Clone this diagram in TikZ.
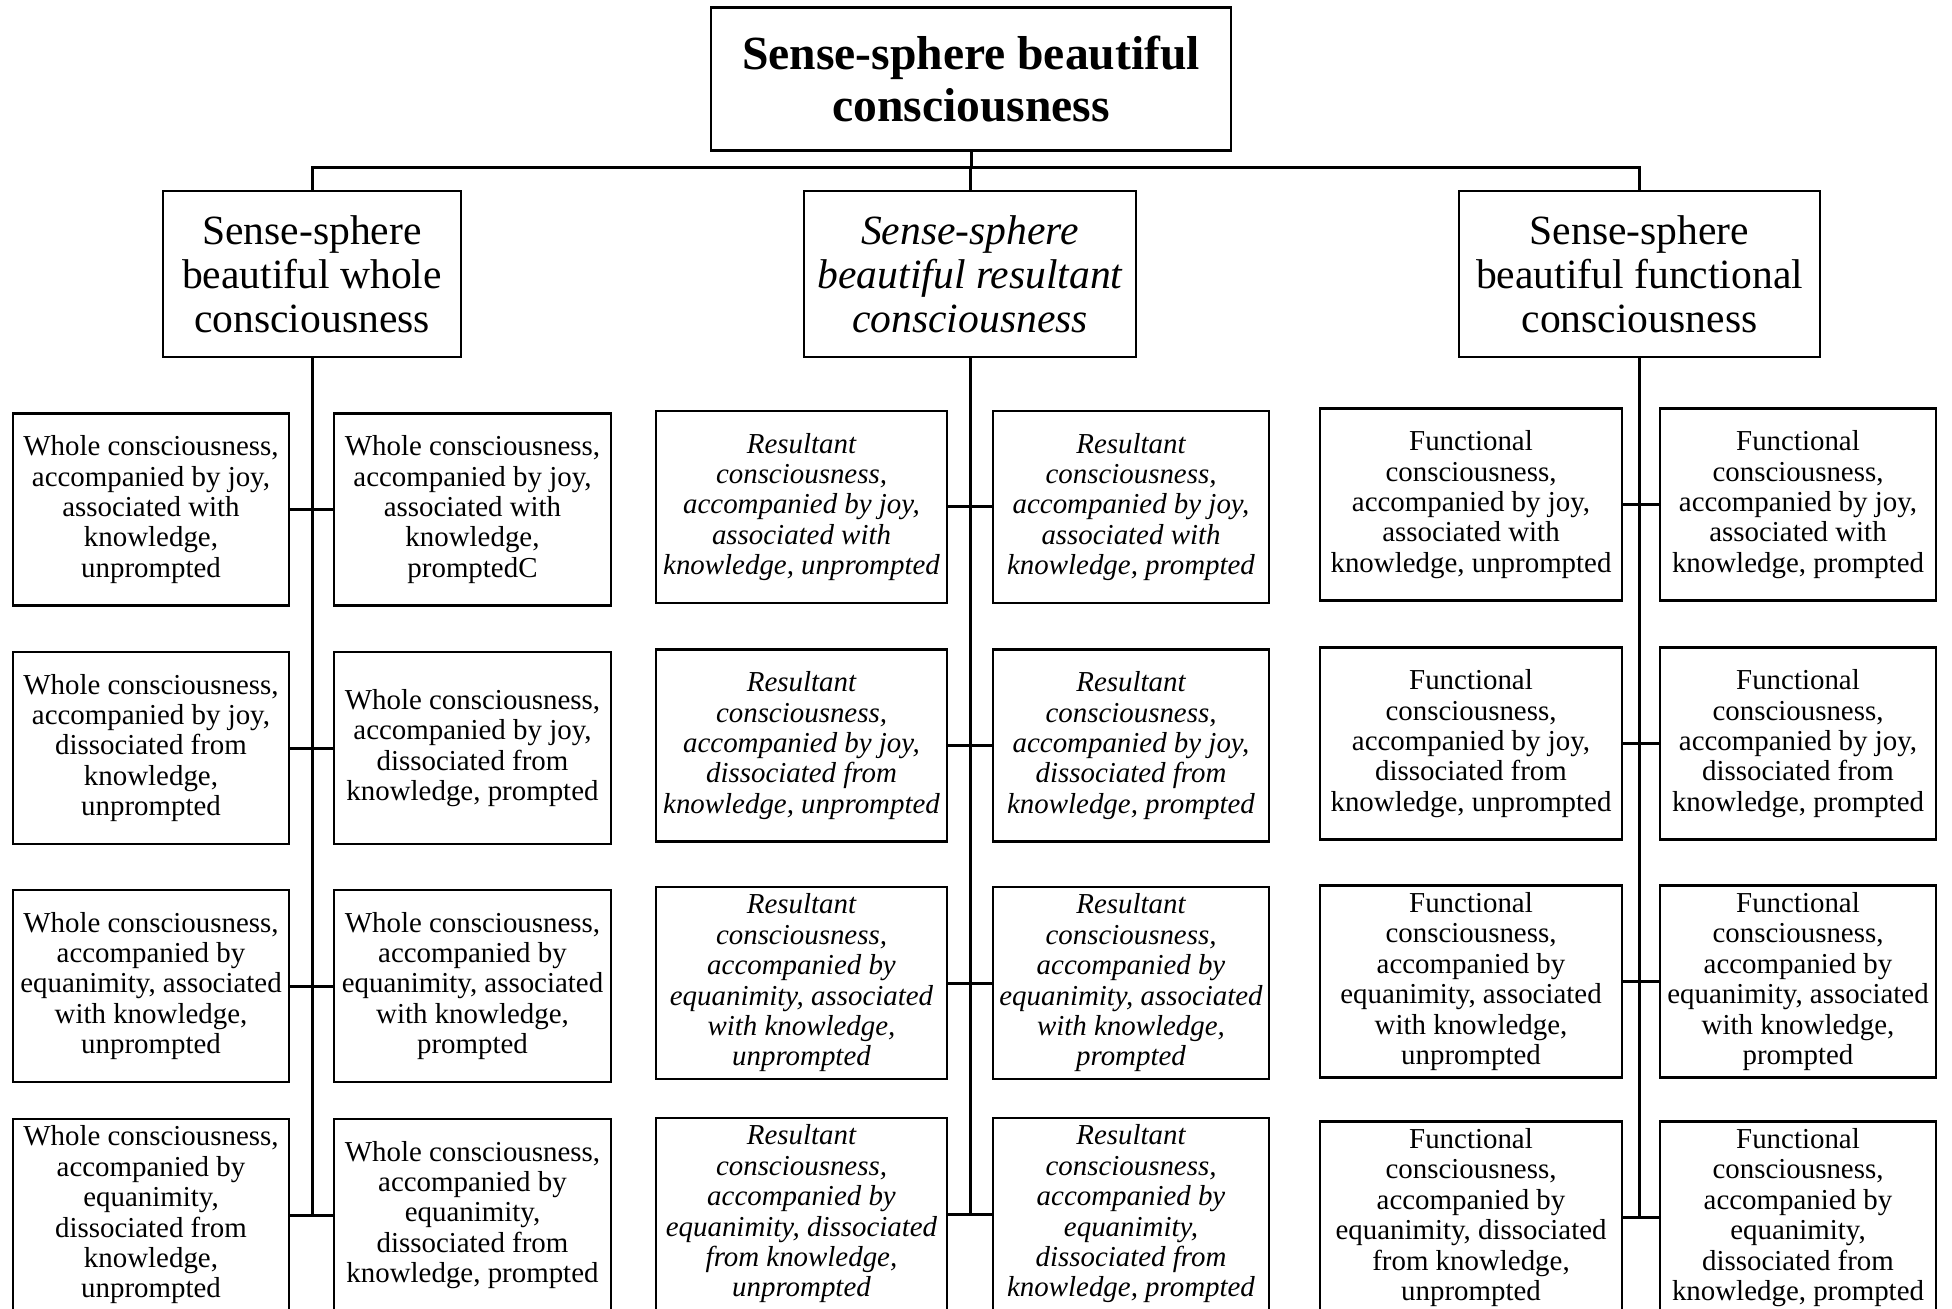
\documentclass[tikz,border=0pt]{standalone}
\usepackage{fontspec}
\setmainfont{Liberation Serif}
\begin{document}
\begin{tikzpicture}[x=0.5pt,y=-0.5pt,
  box/.style={draw, line width=1.3pt, rectangle, inner sep=0pt, align=center},
  topbox/.style={box, minimum width=260pt, minimum height=71.5pt,
    font=\bfseries\fontsize{23.8pt}{25.9pt}\selectfont},
  midbox/.style={box, minimum height=83pt, font=\fontsize{20.8pt}{22pt}\selectfont},
  leaf/.style={box, minimum height=96pt, font=\fontsize{14.45pt}{15.2pt}\selectfont},
  ileaf/.style={leaf, font=\itshape\fontsize{14.45pt}{15.2pt}\selectfont},
  wd/.style={minimum width=#1*0.5pt},
  conn/.style={line width=1.5pt, line join=miter}]
\clip (0,0) rectangle (1952,1309);

% root
\node[topbox] (root) at (971,79) {Sense-sphere beautiful\\consciousness};

% second level
\node[midbox, wd=298] (whole) at (312,274) {Sense-sphere\\beautiful whole\\consciousness};
\node[midbox, wd=332, font=\itshape\fontsize{20.8pt}{22pt}\selectfont] (res) at (970,274)
  {Sense-sphere\\beautiful resultant\\consciousness};
\node[midbox, wd=361] (func) at (1639.5,274) {Sense-sphere\\beautiful functional\\consciousness};

% whole consciousness
\node[leaf, wd=276] (w1l) at (151,509.5) {Whole consciousness,\\accompanied by joy,\\associated with\\knowledge,\\unprompted};
\node[leaf, wd=277] (w1r) at (472.5,509.5) {Whole consciousness,\\accompanied by joy,\\associated with\\knowledge,\\promptedC};
\node[leaf, wd=276] (w2l) at (151,748) {Whole consciousness,\\accompanied by joy,\\dissociated from\\knowledge,\\unprompted};
\node[leaf, wd=277] (w2r) at (472.5,748) {Whole consciousness,\\accompanied by joy,\\dissociated from\\knowledge, prompted};
\node[leaf, wd=276] (w3l) at (151,986) {Whole consciousness,\\accompanied by\\equanimity, associated\\with knowledge,\\unprompted};
\node[leaf, wd=277] (w3r) at (472.5,986) {Whole consciousness,\\accompanied by\\equanimity, associated\\with knowledge,\\prompted};
\node[leaf, wd=276] (w4l) at (151,1215) {Whole consciousness,\\accompanied by\\equanimity,\\dissociated from\\knowledge,\\unprompted};
\node[leaf, wd=277] (w4r) at (472.5,1215) {Whole consciousness,\\accompanied by\\equanimity,\\dissociated from\\knowledge, prompted};

% resultant consciousness
\node[ileaf, wd=291] (r1l) at (801.5,507) {Resultant\\consciousness,\\accompanied by joy,\\associated with\\knowledge, unprompted};
\node[ileaf, wd=276] (r1r) at (1131,507) {Resultant\\consciousness,\\accompanied by joy,\\associated with\\knowledge, prompted};
\node[ileaf, wd=291] (r2l) at (801.5,745.5) {Resultant\\consciousness,\\accompanied by joy,\\dissociated from\\knowledge, unprompted};
\node[ileaf, wd=276] (r2r) at (1131,745.5) {Resultant\\consciousness,\\accompanied by joy,\\dissociated from\\knowledge, prompted};
\node[ileaf, wd=291] (r3l) at (801.5,983) {Resultant\\consciousness,\\accompanied by\\equanimity, associated\\with knowledge,\\unprompted};
\node[ileaf, wd=276] (r3r) at (1131,983) {Resultant\\consciousness,\\accompanied by\\equanimity, associated\\with knowledge,\\prompted};
\node[ileaf, wd=291] (r4l) at (801.5,1214) {Resultant\\consciousness,\\accompanied by\\equanimity, dissociated\\from knowledge,\\unprompted};
\node[ileaf, wd=276] (r4r) at (1131,1214) {Resultant\\consciousness,\\accompanied by\\equanimity,\\dissociated from\\knowledge, prompted};

% functional consciousness
\node[leaf, wd=302] (f1l) at (1471,504.5) {Functional\\consciousness,\\accompanied by joy,\\associated with\\knowledge, unprompted};
\node[leaf, wd=276] (f1r) at (1798,504.5) {Functional\\consciousness,\\accompanied by joy,\\associated with\\knowledge, prompted};
\node[leaf, wd=302] (f2l) at (1471,743.5) {Functional\\consciousness,\\accompanied by joy,\\dissociated from\\knowledge, unprompted};
\node[leaf, wd=276] (f2r) at (1798,743.5) {Functional\\consciousness,\\accompanied by joy,\\dissociated from\\knowledge, prompted};
\node[leaf, wd=302] (f3l) at (1471,981.5) {Functional\\consciousness,\\accompanied by\\equanimity, associated\\with knowledge,\\unprompted};
\node[leaf, wd=276] (f3r) at (1798,981.5) {Functional\\consciousness,\\accompanied by\\equanimity, associated\\with knowledge,\\prompted};
\node[leaf, wd=302] (f4l) at (1471,1217.5) {Functional\\consciousness,\\accompanied by\\equanimity, dissociated\\from knowledge,\\unprompted};
\node[leaf, wd=276] (f4r) at (1798,1217.5) {Functional\\consciousness,\\accompanied by\\equanimity,\\dissociated from\\knowledge, prompted};

% top bus
\coordinate (bus) at (971,168);
\draw[conn] (root.south) -- (bus);
\draw[conn] (whole.north) -- (whole.north |- bus) -- (func.north |- bus) -- (func.north);
\draw[conn] (res.north) -- (res.north |- bus);

% trunks and branches
\draw[conn] (whole.south) -- (whole.south |- w4l.east);
\draw[conn] (res.south) -- (res.south |- r4l.east);
\draw[conn] (func.south) -- (func.south |- f4l.east);
\foreach \c in {w,r,f}{
  \foreach \r in {1,2,3,4}{
    \draw[conn] (\c\r l.east) -- (\c\r r.west);
  }
}
\end{tikzpicture}
\end{document}
